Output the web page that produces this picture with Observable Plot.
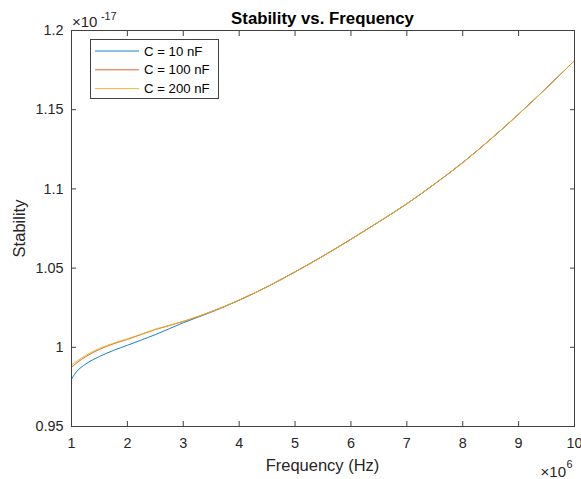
<!DOCTYPE html>
<html>
<head>
<meta charset="utf-8">
<script src="https://cdn.jsdelivr.net/npm/d3@7"></script>
<script src="https://cdn.jsdelivr.net/npm/@observablehq/plot@0.6"></script>
<style>
  html, body { margin: 0; padding: 0; background: #fff; }
  #chart { position: relative; width: 581px; height: 479px; }
</style>
</head>
<body>
<div id="chart"></div>
<script>
// Frequency in units of 1e6 Hz, stability in units of 1e-17
const freq = [1, 1.1, 1.25, 1.5, 1.75, 2, 2.5, 3, 3.5, 4, 4.5, 5, 5.5, 6, 6.5, 7, 7.5, 8, 8.5, 9, 9.5, 10];
const stab10nF  = [0.9800, 0.9850, 0.9893, 0.9942, 0.9980, 1.0013, 1.0080, 1.0155, 1.0222, 1.0297, 1.0382, 1.0476, 1.0576, 1.0682, 1.0792, 1.0906, 1.1032, 1.1166, 1.1314, 1.1472, 1.1638, 1.1810];
const stab100nF = [0.9874, 0.9903, 0.9940, 0.9987, 1.0022, 1.0050, 1.0112, 1.0163, 1.0225, 1.0298, 1.0382, 1.0476, 1.0576, 1.0682, 1.0792, 1.0906, 1.1032, 1.1166, 1.1314, 1.1472, 1.1638, 1.1810];
const stab200nF = [0.9888, 0.9914, 0.9948, 0.9993, 1.0026, 1.0053, 1.0114, 1.0164, 1.0225, 1.0298, 1.0382, 1.0476, 1.0576, 1.0682, 1.0792, 1.0906, 1.1032, 1.1166, 1.1314, 1.1472, 1.1638, 1.1810];

const seriesNames = ["C = 10 nF", "C = 100 nF", "C = 200 nF"];
const seriesColors = ["#0072BD", "#D95319", "#EDB120"];
const xTicks = [1, 2, 3, 4, 5, 6, 7, 8, 9, 10];
const xTickLabels = ["1", "2", "3", "4", "5", "6", "7", "8", "9", "10"];
const yTicks = [0.95, 1, 1.05, 1.1, 1.15, 1.2];
const yTickLabels = ["0.95", "1", "1.05", "1.1", "1.15", "1.2"];

const allSeries = [stab10nF, stab100nF, stab200nF];
const rows = [];
allSeries.forEach((s, k) => freq.forEach((f, i) => rows.push({f, v: s[i], series: seriesNames[k]})));

const axisColor = "#404040";
const textColor = "#262626";
const font = "'Liberation Sans', Arial, Helvetica, sans-serif";

const plot = Plot.plot({
  width: 581,
  height: 479,
  marginLeft: 71,
  marginRight: 7,
  marginTop: 30,
  marginBottom: 53,
  style: {fontFamily: font, fontSize: "14.4px", color: textColor, background: "#fff"},
  x: {domain: [1, 10], label: null},
  y: {domain: [0.95, 1.2], label: null},
  color: {domain: seriesNames, range: seriesColors},
  marks: [
    Plot.line(rows, {x: "f", y: "v", stroke: "series", z: "series", strokeWidth: 0.9, curve: "monotone-x"}),
    Plot.frame({stroke: axisColor, strokeWidth: 1}),
    // inward ticks on all sides
    Plot.axisX({anchor: "bottom", ticks: xTicks, tickSize: 5, dy: -5, tickFormat: () => "", stroke: axisColor, label: null}),
    Plot.axisX({anchor: "top", ticks: xTicks, tickSize: 5, dy: 5, tickFormat: () => "", stroke: axisColor, label: null}),
    Plot.axisY({anchor: "left", ticks: yTicks, tickSize: 5, dx: 5, tickFormat: () => "", stroke: axisColor, label: null}),
    Plot.axisY({anchor: "right", ticks: yTicks, tickSize: 5, dx: -5, tickFormat: () => "", stroke: axisColor, label: null}),
    // tick labels
    Plot.axisX({anchor: "bottom", ticks: xTicks, tickSize: 0, tickPadding: 11, tickFormat: d => xTickLabels[xTicks.indexOf(d)], fill: textColor, label: null}),
    Plot.axisY({anchor: "left", ticks: yTicks, tickSize: 0, tickPadding: 8, tickFormat: d => yTickLabels[yTicks.findIndex(t => Math.abs(t - d) < 1e-9)], fill: textColor, label: null})
  ]
});

document.getElementById("chart").appendChild(plot);

const svg = d3.select(plot);
const addText = (x, y, txt, opts = {}) => svg.append("text")
  .attr("x", x).attr("y", y)
  .attr("fill", opts.fill || textColor)
  .attr("font-family", font)
  .attr("font-size", opts.size || "14.4px")
  .attr("font-weight", opts.weight || "normal")
  .attr("text-anchor", opts.anchor || "start")
  .text(txt);

// Title and axis labels
addText(322.5, 24, "Stability vs. Frequency", {size: "16.8px", weight: "bold", anchor: "middle", fill: "#000"});
addText(322.5, 471, "Frequency (Hz)", {size: "16.5px", anchor: "middle"});
svg.append("text")
  .attr("transform", "translate(25,228.5) rotate(-90)")
  .attr("text-anchor", "middle")
  .attr("fill", textColor)
  .attr("font-family", font)
  .attr("font-size", "16.5px")
  .text("Stability");

// Exponent labels
addText(72, 27, "×10", {size: "15px"});
addText(101, 19.5, "-17", {size: "10.8px"});
addText(566, 476.5, "×10", {size: "15px", anchor: "end"});
addText(566.5, 467.5, "6", {size: "10.8px"});

// Legend
const lg = svg.append("g");
lg.append("rect").attr("x", 90.5).attr("y", 39.5).attr("width", 128).attr("height", 59)
  .attr("fill", "#fff").attr("stroke", axisColor).attr("stroke-width", 1);
seriesNames.forEach((name, i) => {
  const yy = 51 + i * 18.8;
  lg.append("line").attr("x1", 95).attr("x2", 139).attr("y1", yy).attr("y2", yy)
    .attr("stroke", seriesColors[i]).attr("stroke-width", 0.9);
  lg.append("text").attr("x", 144).attr("y", yy + 4.6)
    .attr("text-anchor", "start")
    .attr("font-family", font).attr("font-size", "13.2px").attr("fill", "#000")
    .text(name);
});
</script>
</body>
</html>
